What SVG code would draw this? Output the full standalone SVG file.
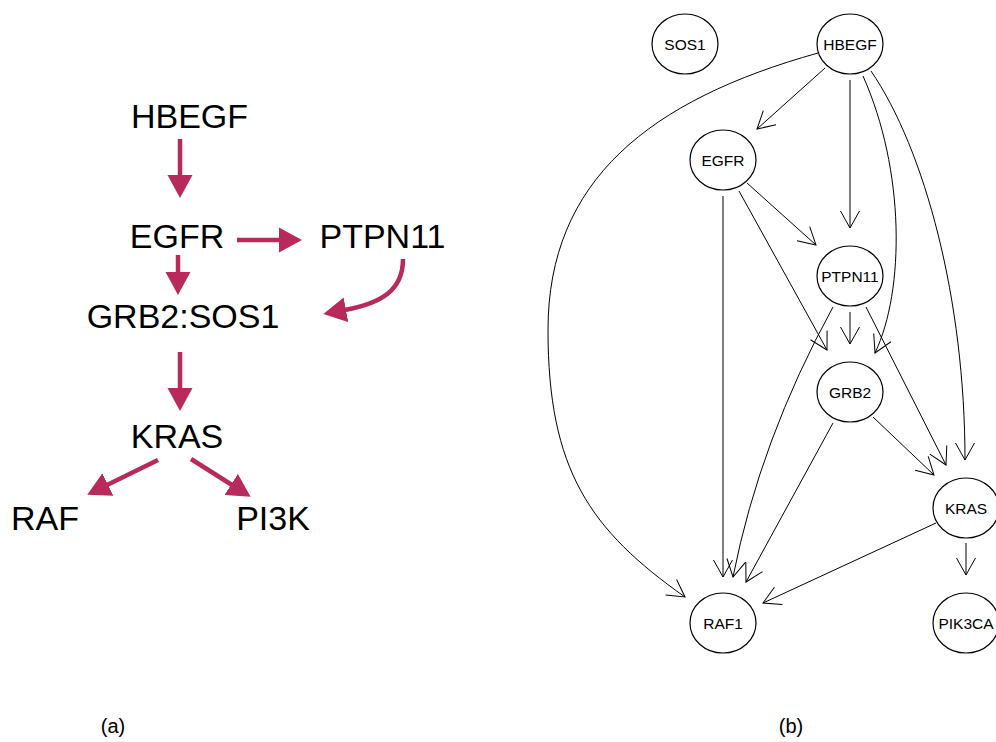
<svg xmlns="http://www.w3.org/2000/svg" width="996" height="742" viewBox="0 0 996 742">
<style>
.lt{font-family:"Liberation Sans",Arial,sans-serif;font-size:34px;fill:#000;text-anchor:middle}
.rt{font-family:"Liberation Sans",Arial,sans-serif;font-size:15.5px;fill:#000;text-anchor:middle}
.cap{font-family:"Liberation Sans",Arial,sans-serif;font-size:20px;fill:#000;text-anchor:middle}
.le{fill:none;stroke:#B8295C;stroke-width:4.5;marker-end:url(#fa)}
.re{fill:none;stroke:#000;stroke-width:1;marker-end:url(#oa)}
.nd{fill:#fff;stroke:#000;stroke-width:1.2}
</style>
<defs>
<marker id="fa" markerUnits="userSpaceOnUse" markerWidth="24" markerHeight="26" viewBox="0 0 24 26" refX="1" refY="13" orient="auto">
<path d="M0,0.5 L23,13 L0,25.5 z" fill="#B8295C"/>
</marker>
<marker id="oa" markerUnits="userSpaceOnUse" markerWidth="20" markerHeight="22" viewBox="0 0 20 22" refX="18" refY="11" orient="auto">
<path d="M1,1.5 L18,11 L1,20.5" fill="none" stroke="#000" stroke-width="1"/>
</marker>
</defs>
<rect width="996" height="742" fill="#fff"/>

<!-- Panel (a) -->
<g id="a-edges">
<line class="le" x1="180" y1="139" x2="180" y2="176"/>
<line class="le" x1="237" y1="240" x2="280" y2="240"/>
<line class="le" x1="178" y1="255" x2="178" y2="273"/>
<path class="le" d="M403,259 C403,290 382,303 345,310"/>
<line class="le" x1="180" y1="352" x2="180" y2="389"/>
<line class="le" x1="158" y1="460" x2="107" y2="485"/>
<line class="le" x1="191" y1="459" x2="232" y2="485"/>
</g>
<g id="a-HBEGF"><text class="lt" x="189.5" y="128">HBEGF</text></g>
<g id="a-EGFR"><text class="lt" x="177" y="248">EGFR</text></g>
<g id="a-PTPN11"><text class="lt" x="382.5" y="248">PTPN11</text></g>
<g id="a-GRB2SOS1"><text class="lt" x="183" y="328">GRB2:SOS1</text></g>
<g id="a-KRAS"><text class="lt" x="177" y="448">KRAS</text></g>
<g id="a-RAF"><text class="lt" x="45" y="530">RAF</text></g>
<g id="a-PI3K"><text class="lt" x="273" y="530">PI3K</text></g>
<text class="cap" x="113" y="733">(a)</text>

<!-- Panel (b) -->
<g id="b-edges">
<line class="re" x1="825" y1="68" x2="757" y2="129"/>
<line class="re" x1="850" y1="80" x2="850" y2="228"/>
<path class="re" d="M863,76 C905,170 905,290 875,353"/>
<path class="re" d="M871,71 C925,150 965,300 965,460"/>
<path class="re" d="M818,53 C650,100 548,180 548,330 C548,470 590,530 685,597"/>
<line class="re" x1="747" y1="183" x2="816" y2="245"/>
<line class="re" x1="739" y1="191" x2="827" y2="350"/>
<line class="re" x1="723" y1="196" x2="723" y2="577"/>
<line class="re" x1="850" y1="312" x2="850" y2="344"/>
<line class="re" x1="866" y1="307" x2="946" y2="465"/>
<path class="re" d="M833,307 Q760,440 733,577"/>
<line class="re" x1="873" y1="417" x2="934" y2="475"/>
<line class="re" x1="833" y1="423" x2="746" y2="582"/>
<line class="re" x1="936" y1="523" x2="763" y2="603"/>
<line class="re" x1="966" y1="543" x2="966" y2="575"/>
</g>
<g id="b-SOS1"><ellipse class="nd" cx="685" cy="44" rx="33" ry="30"/><text class="rt" x="685" y="49.5">SOS1</text></g>
<g id="b-HBEGF"><ellipse class="nd" cx="850" cy="44" rx="33" ry="30"/><text class="rt" x="850" y="49.5">HBEGF</text></g>
<g id="b-EGFR"><ellipse class="nd" cx="723" cy="160" rx="33" ry="30"/><text class="rt" x="723" y="165.5">EGFR</text></g>
<g id="b-PTPN11"><ellipse class="nd" cx="850" cy="276" rx="33" ry="30"/><text class="rt" x="850" y="281.5">PTPN11</text></g>
<g id="b-GRB2"><ellipse class="nd" cx="850" cy="392" rx="33" ry="30"/><text class="rt" x="850" y="397.5">GRB2</text></g>
<g id="b-KRAS"><ellipse class="nd" cx="966" cy="508" rx="33" ry="30"/><text class="rt" x="966" y="513.5">KRAS</text></g>
<g id="b-RAF1"><ellipse class="nd" cx="723" cy="623" rx="33" ry="30"/><text class="rt" x="723" y="628.5">RAF1</text></g>
<g id="b-PIK3CA"><ellipse class="nd" cx="966" cy="623" rx="33" ry="30"/><text class="rt" x="966" y="628.5">PIK3CA</text></g>
<text class="cap" x="791" y="733">(b)</text>
</svg>
